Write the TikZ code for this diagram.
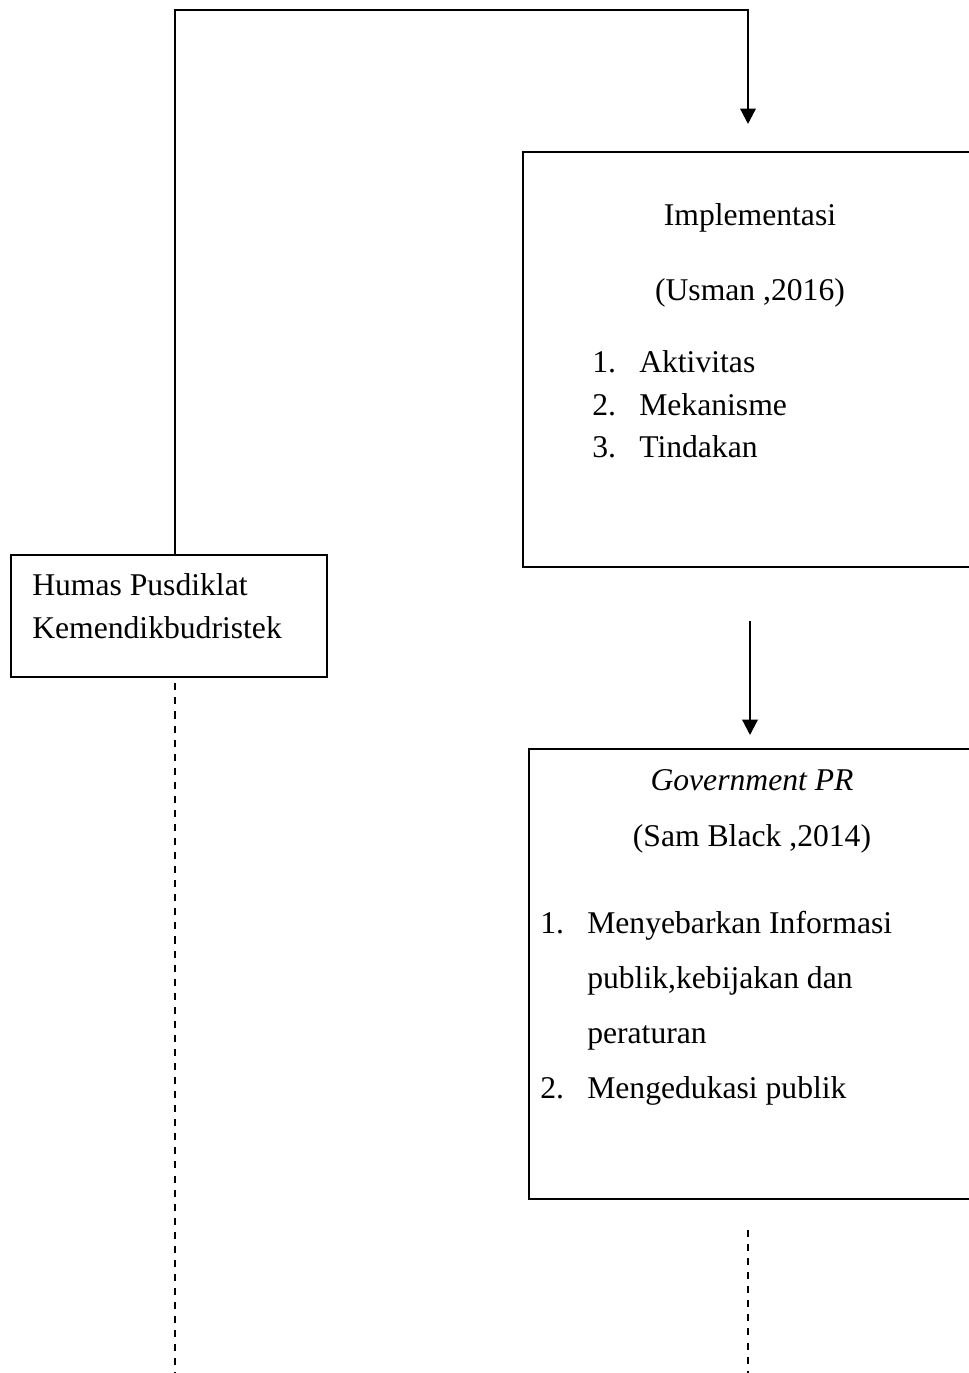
\documentclass[tikz,border=0pt]{standalone}
\usepackage{fontspec}
\setmainfont{Liberation Serif}
\usetikzlibrary{arrows.meta}

\tikzset{
  box/.style={draw, line width=1.2pt, anchor=north west, inner sep=0pt},
  txt/.style={anchor=base west, inner sep=0pt, font=\fontsize{22.5pt}{29.8pt}\selectfont},
  mid/.style={anchor=base, inner sep=0pt, font=\fontsize{22.5pt}{29.8pt}\selectfont},
  arr/.style={line width=1.6pt, -{Triangle[length=11pt,width=11pt]}},
  dashline/.style={line width=1.2pt, dash pattern=on 5pt off 5pt},
}

\begin{document}
\begin{tikzpicture}[x=0.025cm,y=-0.025cm]
\useasboundingbox (0,0) rectangle (968,1373);

% boxes
\node[box, minimum width=7.9cm, minimum height=3.05cm] (humas) at (10,554) {};
\node[box, minimum width=12cm, minimum height=10.375cm] (impl) at (522,151) {};
\node[box, minimum width=12cm, minimum height=11.25cm] (gov) at (528,748) {};

% left box text
\node[txt] (h1) at (32,595) {Humas Pusdiklat};
\node[txt] (h2) at (32,638) {Kemendikbudristek};

% upper right box text
\node[mid] (i0) at (750,225) {Implementasi};
\node[mid] (i1) at (750,300) {(Usman ,2016)};
\node[txt] (n1) at (592,372) {1.};
\node[txt] (i2) at (639,372) {Aktivitas};
\node[txt] (n2) at (592,415) {2.};
\node[txt] (i3) at (639,415) {Mekanisme};
\node[txt] (n3) at (592,457) {3.};
\node[txt] (i4) at (639,457) {Tindakan};

% lower right box text
\node[mid] (g0) at (752,790) {\itshape Government PR};
\node[mid] (g1) at (752,846) {(Sam Black ,2014)};
\node[txt] (m1) at (540,933) {1.};
\node[txt] (g2) at (587,933) {Menyebarkan Informasi};
\node[txt] (g3) at (587,988) {publik,kebijakan dan};
\node[txt] (g4) at (587,1043) {peraturan};
\node[txt] (m2) at (540,1098) {2.};
\node[txt] (g5) at (587,1098) {Mengedukasi publik};

% connectors
\coordinate (c1) at (175,10);
\coordinate (c2) at (748,10);
\coordinate (c3) at (748,124);
\coordinate (a1) at (750,621);
\coordinate (a2) at (750,735);
\coordinate (d1) at (175,1373);
\coordinate (e1) at (748,1230);
\coordinate (e2) at (748,1373);

\draw[arr] (humas.north -| c1) -- (c1) -- (c2) -- (c3);
\draw[arr] (a1) -- (a2);
\draw[dashline] ([yshift=-4pt]humas.south -| c1) -- (d1);
\draw[dashline] (e1) -- (e2);

\end{tikzpicture}
\end{document}
